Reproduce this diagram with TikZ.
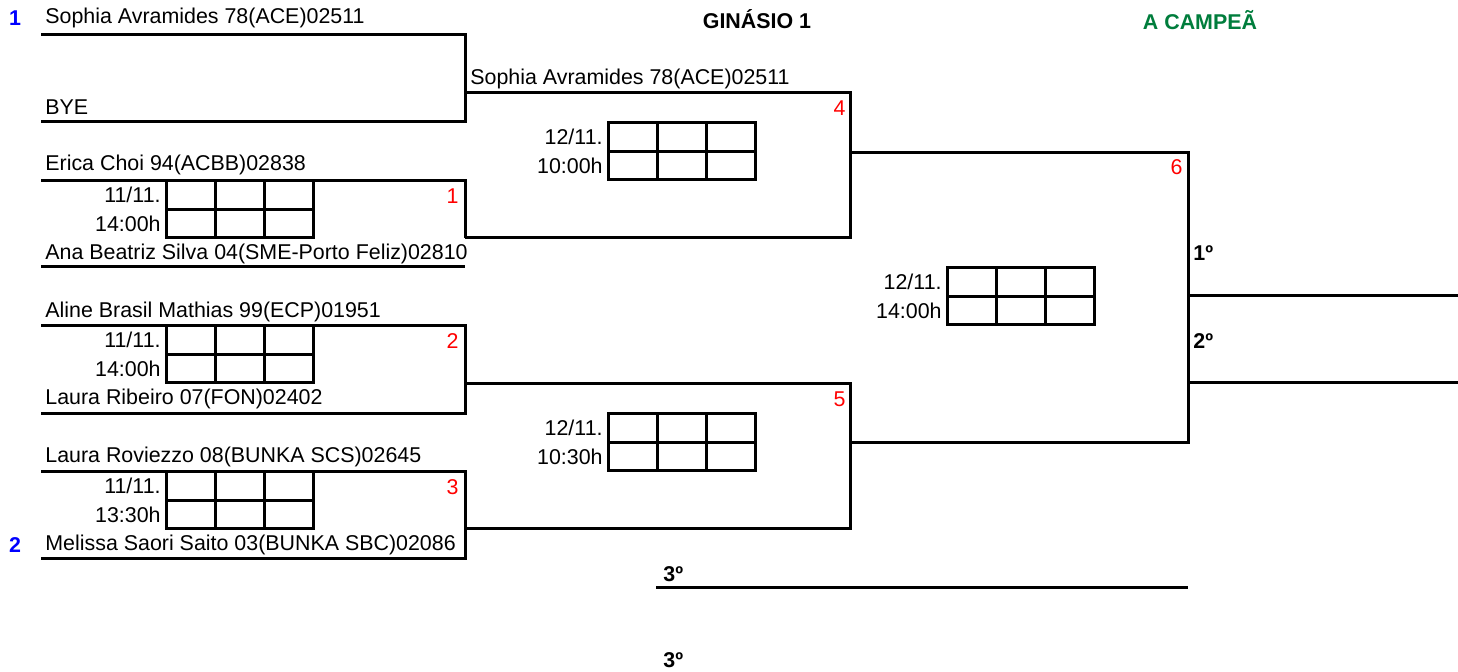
\documentclass[tikz,border=0pt]{standalone}
\usepackage{fontspec}
\setmainfont{Liberation Sans}
\definecolor{verdecamp}{RGB}{0,125,60}
% score box: name, left x, top y, date, time
\newcommand\placar[5]{%
  \draw[linha] (#2,#3) rectangle ++(147,57);
  \draw[linha] (#2,#3+28.5) -- ++(147,0);
  \foreach \k in {1,2} \draw[linha] (#2+49*\k,#3) -- ++(0,57);
  \path (#2-5,#3+14) node[hora] (#1d) {#4};
  \path (#2-5,#3+43) node[hora] (#1h) {#5};
}
\begin{document}
\begin{tikzpicture}[x=0.5pt,y=-0.5pt,
      every node/.style={inner sep=0pt,font=\fontsize{10.7}{12}\selectfont},
      linha/.style={line width=1.5pt},
      nome/.style={anchor=west},
      hora/.style={anchor=east},
      jogo/.style={anchor=east,text=red},
      cabeca/.style={text=blue,font=\fontsize{10.7}{12}\selectfont\bfseries},
      titulo/.style={font=\fontsize{10.7}{12}\selectfont\bfseries}]
      \useasboundingbox (0,0) rectangle (1458,672);
      % first round
      \draw[linha] (41,35)--(465,35)--(465,122)--(41,122);
      \draw[linha] (41,181)--(465,181)--(465,238);
      \draw[linha] (41,267)--(465,267);
      \draw[linha] (41,326)--(465,326)--(465,414)--(41,414);
      \draw[linha] (41,472)--(465,472)--(465,559)--(41,559);
      % second round
      \draw[linha] (465,93)--(850,93)--(850,238)--(465,238);
      \draw[linha] (465,384)--(850,384)--(850,529)--(465,529);
      % final
      \draw[linha] (850,153)--(1188,153)--(1188,443)--(850,443);
      \draw[linha] (1188,296)--(1458,296);
      \draw[linha] (1188,383)--(1458,383);
      \draw[linha] (656,588)--(1188,588);
      % score boxes
      \placar{p1}{166}{181}{11/11.}{14:00h}
      \placar{p2}{166}{326}{11/11.}{14:00h}
      \placar{p3}{166}{472}{11/11.}{13:30h}
      \placar{p4}{608}{123}{12/11.}{10:00h}
      \placar{p5}{608}{414}{12/11.}{10:30h}
      \placar{p6}{947}{268}{12/11.}{14:00h}
      % players
      \path (45,18) node[nome] (j1) {Sophia Avramides 78(ACE)02511};
      \path (45,107) node[nome] (j2) {BYE};
      \path (45,165) node[nome] (j3) {Erica Choi 94(ACBB)02838};
      \path (45,254) node[nome] (j4) {Ana Beatriz Silva 04(SME-Porto Feliz)02810};
      \path (45,312) node[nome] (j5) {Aline Brasil Mathias 99(ECP)01951};
      \path (45,399) node[nome] (j6) {Laura Ribeiro 07(FON)02402};
      \path (45,457) node[nome] (j7) {Laura Roviezzo 08(BUNKA SCS)02645};
      \path (45,545) node[nome] (j8) {Melissa Saori Saito 03(BUNKA SBC)02086};
      \path (470,79) node[nome] (v1) {Sophia Avramides 78(ACE)02511};
      \path (15,18) node[cabeca] (c1) {1};
      \path (15,545) node[cabeca] (c2) {2};
      % match numbers
      \path (459,196) node[jogo] (m1) {1};
      \path (459,341) node[jogo] (m2) {2};
      \path (459,487) node[jogo] (m3) {3};
      \path (846,108) node[jogo] (m4) {4};
      \path (846,399) node[jogo] (m5) {5};
      \path (1183,167) node[jogo] (m6) {6};
      % headings and places
      \path (757,19) node[titulo] (gin) {GINÁSIO 1};
      \path (1200,20) node[titulo,text=verdecamp] (camp) {A CAMPEÃ};
      \path (1193,253) node[titulo,anchor=west] (l1) {1º};
      \path (1193,341) node[titulo,anchor=west] (l2) {2º};
      \path (663,574) node[titulo,anchor=west] (l3) {3º};
      \path (663,660) node[titulo,anchor=west] (l4) {3º};
     \end{tikzpicture}
\end{document}
